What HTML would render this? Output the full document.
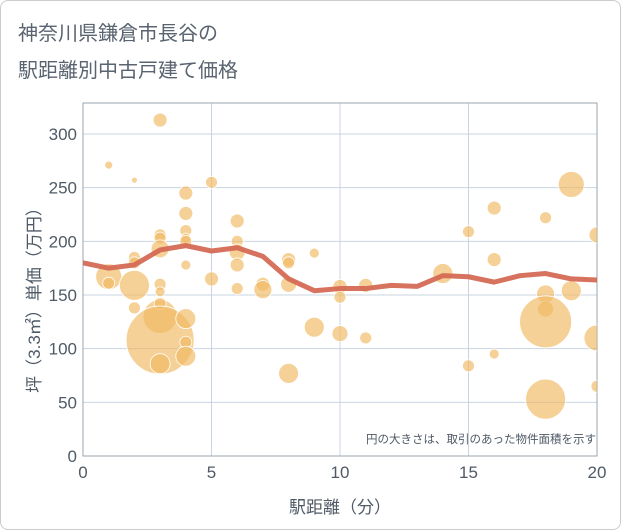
<!DOCTYPE html>
<html><head><meta charset="utf-8"><style>
body{margin:0;background:#fff;font-family:"Liberation Sans","Noto Sans CJK JP",sans-serif;}
#wrap{position:relative;width:619px;height:528px;border:1px solid #ccc;border-radius:8px;overflow:hidden;background:#fff}
</style></head><body>
<div id="wrap">
<svg id="chart" width="621" height="530" style="position:absolute;left:-1px;top:-1px">
<text x="18" y="40" font-size="20" fill="#5a6470">神奈川県鎌倉市長谷の</text>
<text x="18" y="77" font-size="20" fill="#5a6470">駅距離別中古戸建て価格</text>
<g id="grid"></g><g id="marks"></g>
<text x="596" y="443" font-size="11.5" fill="#4f5a66" text-anchor="end">円の大きさは、取引のあった物件面積を示す</text>
<text x="340" y="513" font-size="17" fill="#4f5a66" text-anchor="middle">駅距離（分）</text>
<text transform="translate(40,296) rotate(-90)" font-size="17" fill="#4f5a66" text-anchor="middle">坪（3.3㎡）単価（万円）</text>
</svg></div>
<script>
const bubbleX=[1,2,3,5,4,4,4,4,4,3,3,6,3,2,2,1,1,2,3,3,2,3,3,3,4,4,4,3,4,5,6,6,6,6,7,7,8,8,8,8,9,9,10,10,10,11,11,14,15,15,16,16,16,18,18,18,18,18,19,19,20,20,20];
const bubbleY=[271,257,313,255,245,226,210,203,200,206,203,219,193,185,180,167,161,159,160,153,138,130,142,108,128,106,93,86,178,165,200,190,178,156,160,155,183,180,160,77,189,120,158,148,114,159,110,170,209,84,231,183,95,222,151,137,125,53,253,154,206,110,65];
const bubbleR=[4,3,7,6,7,7,6,5,6,6,6,7,9,6,6,13,6,15,6,5,6,17,6,34,10,6,10,10,5,7,6,8,7,6,7,9,7,6,8,10,5,10,7,6,8,7,6,10,6,6,7,7,5,6,9,8,26,20,13,10,8,13,6];
const lineX=[0,1,2,3,4,5,6,7,8,9,10,11,12,13,14,15,16,17,18,19,20];
const lineY=[180,175,178,192,196,191,194,186,165,154,156,156,159,158,168,167,162,168,170,165,164];
const xTicks=[0,5,10,15,20];
const yTicks=[0,50,100,150,200,250,300];
const L=83,R=597,T=103,B=456;
const sx=v=>L+(v/20)*(R-L), sy=v=>B-(v/300)*(B-134);
const NS="http://www.w3.org/2000/svg";
const grid=document.getElementById('grid'),marks=document.getElementById('marks');
function mk(tag,at,parent){const e=document.createElementNS(NS,tag);for(const k in at)e.setAttribute(k,at[k]);parent.appendChild(e);return e;}
yTicks.forEach(v=>{const l=mk('line',{x1:L,x2:R,y1:sy(v),y2:sy(v),stroke:'#c8d4e0','stroke-width':1},grid);


const t=mk('text',{x:L-6,y:sy(v)+6,'font-size':17,fill:'#4f5a66','text-anchor':'end'},grid);t.textContent=v;

});
xTicks.forEach(v=>{const l=mk('line',{x1:sx(v),x2:sx(v),y1:T,y2:B,stroke:'#c8d4e0','stroke-width':1},grid);


const t=mk('text',{x:sx(v),y:B+22,'font-size':17,fill:'#4f5a66','text-anchor':'middle'},grid);t.textContent=v;

});
const fr=mk('rect',{x:L,y:T,width:R-L,height:B-T,fill:'none',stroke:'#9aa4ae','stroke-width':1},grid);


const cp=mk('clipPath',{id:'cp'},marks);mk('rect',{x:L,y:T,width:R-L,height:B-T},cp);
const g=mk('g',{'clip-path':'url(#cp)'},marks);
bubbleX.forEach((x,i)=>{const c=mk('circle',{cx:sx(x),cy:sy(bubbleY[i]),r:bubbleR[i],fill:'rgba(240,185,95,0.65)',stroke:'#fff','stroke-width':0.8},g);

});
const p=mk('polyline',{points:lineX.map((x,i)=>sx(x)+','+sy(lineY[i])).join(' '),fill:'none',stroke:'#d46a55','stroke-width':5,'stroke-linejoin':'round','stroke-opacity':0.95},g);


</script></body></html>
